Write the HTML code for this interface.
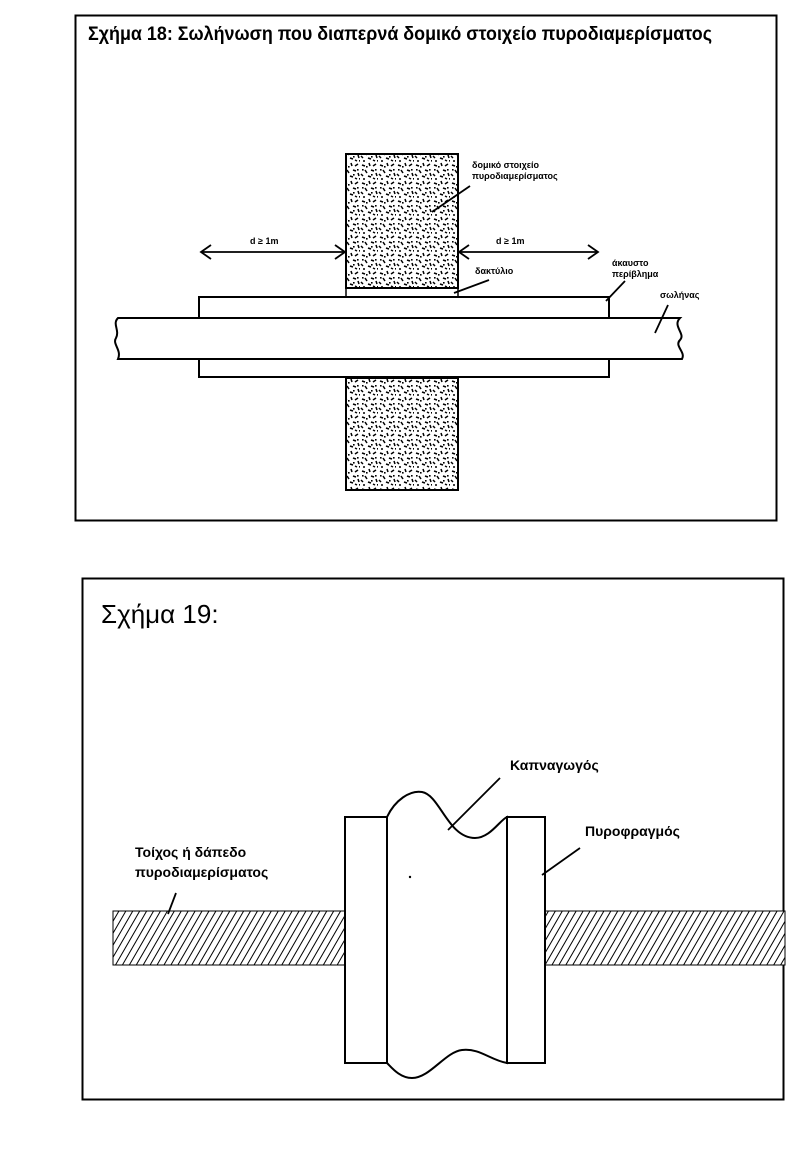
<!DOCTYPE html>
<html><head><meta charset="utf-8"><style>
html,body{margin:0;padding:0;background:#fff;}
svg{display:block;}
text{font-family:"Liberation Sans","DejaVu Sans",sans-serif;fill:#000;}
</style></head><body>
<svg width="806" height="1173" viewBox="0 0 806 1173" xmlns="http://www.w3.org/2000/svg">
<defs>
<pattern id="sp" width="18" height="18" patternUnits="userSpaceOnUse">
<rect width="18" height="18" fill="#fff"/>
<g stroke="#000" stroke-width="1.5">
<line x1="2" y1="3" x2="5" y2="4"/><line x1="9" y1="1" x2="10" y2="4"/><line x1="13" y1="4" x2="16" y2="2"/>
<line x1="5" y1="8" x2="7" y2="11"/><line x1="11" y1="8" x2="14" y2="9"/><line x1="1" y1="12" x2="3" y2="14"/>
<line x1="16" y1="11" x2="17" y2="14"/><line x1="8" y1="14" x2="11" y2="15"/><line x1="3" y1="17" x2="5" y2="17"/>
<line x1="13" y1="16" x2="15" y2="17"/></g>
<g fill="#000"><rect x="6" y="4" width="1.6" height="1.6"/><rect x="15" y="7" width="1.6" height="1.6"/><rect x="2" y="7" width="1.6" height="1.6"/><rect x="11" y="12" width="1.6" height="1.6"/><rect x="17" y="16" width="1.6" height="1.6"/></g>
</pattern>
<pattern id="ht" width="6" height="6" patternUnits="userSpaceOnUse" patternTransform="rotate(30)">
<rect width="6" height="6" fill="#fff"/><line x1="0" y1="0" x2="0" y2="6" stroke="#000" stroke-width="2"/>
</pattern>
</defs>

<!-- Figure 18 -->
<rect x="75.5" y="15.5" width="701" height="505" fill="none" stroke="#000" stroke-width="2"/>
<text x="88" y="40" font-size="19" font-weight="bold" textLength="624" lengthAdjust="spacingAndGlyphs">Σχήμα 18: Σωλήνωση που διαπερνά δομικό στοιχείο πυροδιαμερίσματος</text>

<rect x="346" y="154" width="112" height="134" fill="url(#sp)" stroke="#000" stroke-width="2"/>
<rect x="346" y="378" width="112" height="112" fill="url(#sp)" stroke="#000" stroke-width="2"/>
<line x1="346" y1="288" x2="346" y2="297" stroke="#000" stroke-width="1.5"/>
<line x1="458" y1="288" x2="458" y2="297" stroke="#000" stroke-width="1.5"/>
<rect x="199" y="297" width="410" height="80" fill="#fff" stroke="#000" stroke-width="2"/>
<path d="M118 318 L680 318 C672 326,686 334,680 340 C674 346,686 352,682 359 L118 359 C122 350,112 344,116 338 C120 330,112 324,118 318 Z" fill="#fff" stroke="#000" stroke-width="2"/>

<g stroke="#000" stroke-width="1.8" fill="none">
<line x1="201" y1="252" x2="345" y2="252"/><polyline points="211,245 201,252 211,259"/><polyline points="335,245 345,252 335,259"/>
<line x1="459" y1="252" x2="598" y2="252"/><polyline points="469,245 459,252 469,259"/><polyline points="588,245 598,252 588,259"/>
<line x1="432" y1="212" x2="470" y2="186"/>
<line x1="454" y1="293" x2="489" y2="280"/>
<line x1="606" y1="301" x2="625" y2="281"/>
<line x1="655" y1="333" x2="668" y2="305"/>
</g>
<g font-size="9" font-weight="bold">
<text x="250" y="244">d ≥ 1m</text>
<text x="496" y="244">d ≥ 1m</text>
<text x="472" y="168">δομικό στοιχείο</text>
<text x="472" y="179">πυροδιαμερίσματος</text>
<text x="475" y="274">δακτύλιο</text>
<text x="612" y="266">άκαυστο</text>
<text x="612" y="277">περίβλημα</text>
<text x="660" y="298">σωλήνας</text>
</g>

<!-- Figure 19 -->
<rect x="82.5" y="578.5" width="701" height="521" fill="none" stroke="#000" stroke-width="2"/>
<text x="101" y="623" font-size="26">Σχήμα 19:</text>

<rect x="113" y="911" width="672" height="54" fill="url(#ht)" stroke="#000" stroke-width="1"/>
<rect x="345" y="817" width="42" height="246" fill="#fff" stroke="#000" stroke-width="2"/>
<rect x="507" y="817" width="38" height="246" fill="#fff" stroke="#000" stroke-width="2"/>
<path d="M387 817 C395 800,410 790,422 792 C440 795,448 838,475 838 C490 838,500 820,507 817 L507 1063 C490 1060,480 1048,462 1050 C445 1052,430 1078,412 1078 C400 1078,392 1068,387 1063 Z" fill="#fff" stroke="#000" stroke-width="2"/>
<g stroke="#000" stroke-width="1.8" fill="none">
<line x1="448" y1="830" x2="500" y2="778"/>
<line x1="542" y1="875" x2="580" y2="848"/>
<line x1="168" y1="914" x2="176" y2="893"/>
</g>
<circle cx="410" cy="877" r="1.2" fill="#000"/>
<g font-size="14" font-weight="bold">
<text x="510" y="770">Καπναγωγός</text>
<text x="585" y="836">Πυροφραγμός</text>
<text x="135" y="857">Τοίχος ή δάπεδο</text>
<text x="135" y="877">πυροδιαμερίσματος</text>
</g>
</svg>
</body></html>
